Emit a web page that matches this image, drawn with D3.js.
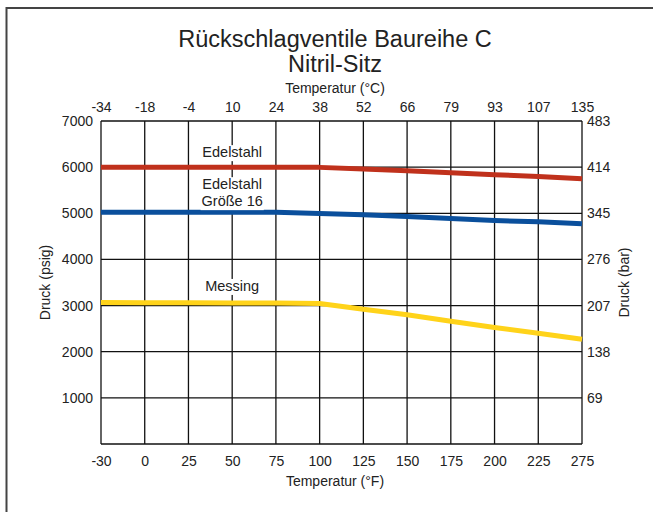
<!DOCTYPE html>
<html>
<head>
<meta charset="utf-8">
<script src="https://cdn.jsdelivr.net/npm/d3@7"></script>
<style>
  body { margin: 0; background: #fff; }
  svg { font-family: "Liberation Sans", Arial, sans-serif; }
</style>
</head>
<body>
<svg id="chart" width="653" height="512"></svg>
<script>
// temperature categories (equally spaced on the chart, 250 is skipped)
const tempF = ["-30", "0", "25", "50", "75", "100", "125", "150", "175", "200", "225", "275"]
const tempC = ["-34", "-18", "-4", "10", "24", "38", "52", "66", "79", "93", "107", "135"]

const psiTicks = [1000, 2000, 3000, 4000, 5000, 6000, 7000]
const barTicks = ["69", "138", "207", "276", "345", "414", "483"]

// pressure ratings (psig) per temperature
const edelstahl = [6000, 6000, 6000, 6000, 6000, 5995, 5960, 5922, 5879, 5835, 5798, 5748]
const edelstahl16 = [5020, 5020, 5020, 5020, 5020, 4995, 4967, 4931, 4888, 4844, 4816, 4772]
const messing = [3065, 3062, 3060, 3057, 3054, 3045, 2920, 2800, 2660, 2525, 2400, 2270]

const svg = d3.select("#chart")
const W = 653, H = 512
const plotL = 101, plotR = 582, plotT = 121, plotB = 444
const textCol = "#222"

// outer frame (right and bottom run off the picture)
svg.append("path")
  .attr("d", `M6.5,${H + 5} L6.5,8 L${W + 5},8`)
  .attr("fill", "none")
  .attr("stroke", "#444")
  .attr("stroke-width", 2)

let x = d3.scalePoint()
  .domain(tempF)
  .range([plotL, plotR])

let xTop = d3.scalePoint()
  .domain(tempC)
  .range([plotL, plotR])

let y = d3.scaleLinear()
  .domain([0, 7000])
  .range([plotB, plotT])

// grid
let grid = svg.append("g")
grid.selectAll(".vg")
  .data(tempF)
  .enter()
  .append("line")
  .attr("x1", d => x(d)).attr("x2", d => x(d))
  .attr("y1", plotT).attr("y2", plotB)
  .attr("stroke", "#111")
  .attr("stroke-width", 1.3)
grid.selectAll(".hg")
  .data([0].concat(psiTicks))
  .enter()
  .append("line")
  .attr("x1", plotL).attr("x2", plotR)
  .attr("y1", d => y(d)).attr("y2", d => y(d))
  .attr("stroke", "#111")
  .attr("stroke-width", 1.3)

// axes as text labels
let axisFont = 14
svg.append("g")
  .call(d3.axisBottom(x).tickSize(0).tickPadding(12))
  .attr("transform", `translate(0,${plotB})`)
  .call(g => g.select(".domain").remove())
  .selectAll("text")
  .attr("font-size", axisFont).attr("fill", textCol)

svg.append("g")
  .call(d3.axisTop(xTop).tickSize(0).tickPadding(9))
  .attr("transform", `translate(0,${plotT})`)
  .call(g => g.select(".domain").remove())
  .selectAll("text")
  .attr("font-size", axisFont).attr("fill", textCol)

svg.append("g")
  .call(d3.axisLeft(y).tickValues(psiTicks).tickSize(0).tickPadding(8).tickFormat(d3.format("d")))
  .attr("transform", `translate(${plotL},0)`)
  .call(g => g.select(".domain").remove())
  .selectAll("text")
  .attr("font-size", axisFont).attr("fill", textCol)

svg.append("g")
  .call(d3.axisRight(y).tickValues(psiTicks).tickSize(0).tickPadding(5).tickFormat((d, i) => barTicks[i]))
  .attr("transform", `translate(${plotR},0)`)
  .call(g => g.select(".domain").remove())
  .selectAll("text")
  .attr("font-size", axisFont).attr("fill", textCol)

// axis groups carry their own font-family; reset it to the page font
svg.selectAll("g").attr("font-family", null)

// lines
let line = d3.line()
  .x((d, i) => x(tempF[i]))
  .y(d => y(d))

let series = [
  {name: "Messing", values: messing, color: "#ffd31a"},
  {name: "Edelstahl 16", values: edelstahl16, color: "#0a4f9c"},
  {name: "Edelstahl", values: edelstahl, color: "#c0311c"}
]
svg.selectAll(".series")
  .data(series)
  .enter()
  .append("path")
  .attr("d", d => line(d.values))
  .attr("fill", "none")
  .attr("stroke", d => d.color)
  .attr("stroke-width", 5)
  .attr("stroke-linejoin", "round")

// series labels with white backing
let labelFont = 14.5
let labels = [
  {lines: ["Edelstahl"], at: 6000, dy: -10},
  {lines: ["Edelstahl", "Größe 16"], at: 6000, dy: 22},
  {lines: ["Messing"], at: messing[3], dy: -12}
]
labels.forEach(l => {
  let g = svg.append("g")
  let cx = x("50")
  let y0 = y(l.at) + l.dy
  let h = l.lines.length * 17
  let texts = l.lines.map((t, i) => g.append("text")
    .attr("x", cx)
    .attr("y", y0 + i * 17)
    .attr("text-anchor", "middle")
    .attr("font-size", labelFont)
    .attr("fill", textCol)
    .text(t))
  let w = d3.max(texts, t => t.node().getComputedTextLength())
  g.insert("rect", "text")
    .attr("x", cx - w / 2 - 1)
    .attr("y", y0 - 12)
    .attr("width", w + 2)
    .attr("height", h - 1)
    .attr("fill", "#fff")
})

// titles
let cxTitle = 335
svg.append("text").attr("x", cxTitle).attr("y", 47)
  .attr("text-anchor", "middle").attr("font-size", 23.5).attr("fill", textCol)
  .text("Rückschlagventile Baureihe C")
svg.append("text").attr("x", cxTitle).attr("y", 72)
  .attr("text-anchor", "middle").attr("font-size", 23.5).attr("fill", textCol)
  .text("Nitril-Sitz")
svg.append("text").attr("x", cxTitle).attr("y", 93)
  .attr("text-anchor", "middle").attr("font-size", 14).attr("fill", textCol)
  .text("Temperatur (°C)")
svg.append("text").attr("x", cxTitle).attr("y", 486)
  .attr("text-anchor", "middle").attr("font-size", 14).attr("fill", textCol)
  .text("Temperatur (°F)")
svg.append("text")
  .attr("transform", `translate(50,${(plotT + plotB) / 2}) rotate(-90)`)
  .attr("text-anchor", "middle").attr("font-size", 14).attr("fill", textCol)
  .text("Druck (psig)")
svg.append("text")
  .attr("transform", `translate(629,${(plotT + plotB) / 2}) rotate(-90)`)
  .attr("text-anchor", "middle").attr("font-size", 14).attr("fill", textCol)
  .text("Druck (bar)")
</script>
</body>
</html>
